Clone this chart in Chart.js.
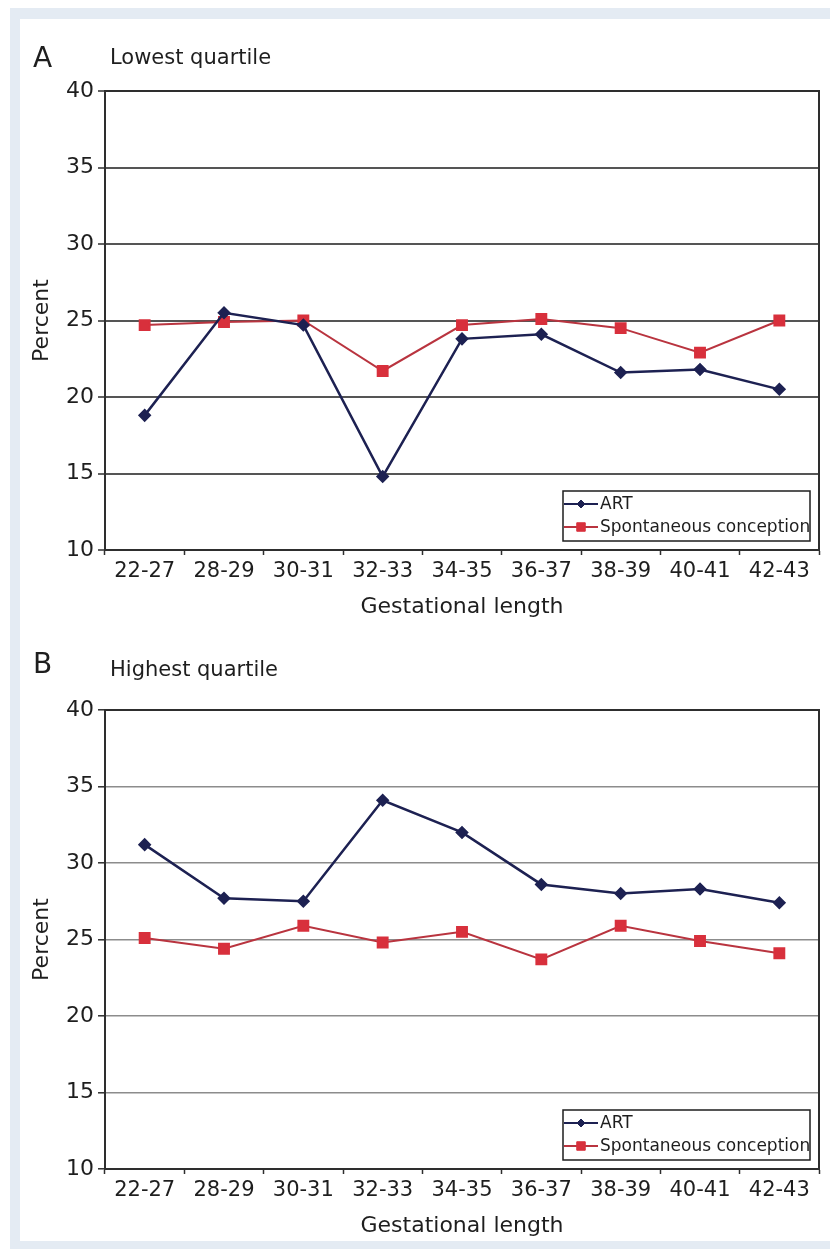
<!DOCTYPE html>
<html>
<head>
<meta charset="utf-8">
<script src="https://cdn.jsdelivr.net/npm/chart.js@4.4.1/dist/chart.umd.min.js"></script>
<style>
  body { margin: 0; background: #ffffff; width: 830px; height: 1249px; overflow: hidden; position: relative; font-family: 'DejaVu Sans', sans-serif; }
  .frame { position: absolute; left: 10px; top: 8px; width: 820px; height: 1241px; background: #e4ebf3; }
  .inner { position: absolute; left: 20px; top: 19px; width: 810px; height: 1222px; background: #ffffff; }
  .panel { position: absolute; left: 0; width: 830px; height: 620px; }
  .panel canvas { position: absolute; left: 0; top: 0; }
  .letter { position: absolute; left: 33px; font-size: 28px; line-height: 28px; color: #1e1e1e; }
  .heading { position: absolute; left: 110px; font-size: 21px; line-height: 21px; color: #1e1e1e; }
</style>
</head>
<body>
<div class="frame"></div>
<div class="inner"></div>

<div class="panel" style="top:0px;">
  <canvas id="chart-lowest" width="830" height="620"></canvas>
  <div class="letter" style="top:44px;">A</div>
  <div class="heading" style="top:47px;">Lowest quartile</div>
</div>

<div class="panel" style="top:619px;">
  <canvas id="chart-highest" width="830" height="620"></canvas>
  <div class="letter" style="top:31px;">B</div>
  <div class="heading" style="top:40px;">Highest quartile</div>
</div>

<script>
// gestational length groups (weeks)
const categories = ['22-27', '28-29', '30-31', '32-33', '34-35', '36-37', '38-39', '40-41', '42-43'];
const seriesNames = ['ART', 'Spontaneous conception'];

// A: lowest quartile
const artLowest   = [18.8, 25.5, 24.7, 14.8, 23.8, 24.1, 21.6, 21.8, 20.5];
const spontLowest = [24.7, 24.9, 25.0, 21.7, 24.7, 25.1, 24.5, 22.9, 25.0];

// B: highest quartile
const artHighest   = [31.2, 27.7, 27.5, 34.1, 32.0, 28.6, 28.0, 28.3, 27.4];
const spontHighest = [25.1, 24.4, 25.9, 24.8, 25.5, 23.7, 25.9, 24.9, 24.1];

// y axis
const yMin = 10, yMax = 40, yStep = 5;

Chart.defaults.font.family = "'DejaVu Sans', sans-serif";
Chart.defaults.color = '#1e1e1e';

const ART_COLOR = '#1d2152';
const SPONT_LINE = '#b9343f';
const SPONT_POINT = '#d8303c';

// caja alrededor del area del grafico (arriba y derecha)
const plotBox = {
    id: 'plotBox',
    afterDraw(chart) {
        const a = chart.chartArea, ctx = chart.ctx;
        ctx.save();
        ctx.strokeStyle = '#2e2e2e';
        ctx.lineWidth = 2;
        ctx.strokeRect(a.left, a.top, a.right - a.left, a.bottom - a.top);
        ctx.restore();
    }
};

// leyenda dentro del area, abajo a la derecha
const boxLegend = {
    id: 'boxLegend',
    afterDatasetsDraw(chart) {
        const a = chart.chartArea, ctx = chart.ctx;
        const w = 247, h = 50;
        const x = a.right - 9 - w, y = a.bottom - 9 - h;
        ctx.save();
        ctx.fillStyle = '#ffffff';
        ctx.fillRect(x, y, w, h);
        ctx.strokeStyle = '#1e1e1e';
        ctx.lineWidth = 1.5;
        ctx.strokeRect(x, y, w, h);
        chart.data.datasets.forEach((ds, i) => {
            const cy = y + 13 + i * 23;
            ctx.strokeStyle = ds.borderColor;
            ctx.lineWidth = 2;
            ctx.beginPath();
            ctx.moveTo(x + 1, cy);
            ctx.lineTo(x + 35, cy);
            ctx.stroke();
            ctx.fillStyle = ds.pointBackgroundColor;
            ctx.strokeStyle = ds.pointBorderColor;
            ctx.lineWidth = 1;
            Chart.helpers.drawPoint(ctx, { pointStyle: ds.pointStyle, radius: ds.pointRadius - 1, borderWidth: 1 }, x + 18, cy);
            ctx.fillStyle = '#1e1e1e';
            ctx.font = "17px 'DejaVu Sans', sans-serif";
            ctx.textBaseline = 'middle';
            ctx.textAlign = 'left';
            ctx.fillText(ds.label, x + 37, cy + 1);
        });
        ctx.restore();
    }
};

function crearPanel(id, art, spont, gridColor, gridWidth) {
    const ctx = document.getElementById(id);
    return new Chart(ctx, {
        type: 'line',
        data: {
            labels: categories,
            datasets: [{
                label: seriesNames[0],
                data: art,
                borderColor: ART_COLOR,
                borderWidth: 2.5,
                pointStyle: 'rectRot',
                pointRadius: 5,
                pointBackgroundColor: ART_COLOR,
                pointBorderColor: ART_COLOR,
                tension: 0
            }, {
                label: seriesNames[1],
                data: spont,
                borderColor: SPONT_LINE,
                borderWidth: 2,
                pointStyle: 'rect',
                pointRadius: 7,
                pointBackgroundColor: SPONT_POINT,
                pointBorderColor: SPONT_POINT,
                tension: 0
            }]
        },
        options: {
            responsive: false,
            animation: false,
            layout: { padding: { left: 0, top: 91, right: 11, bottom: 0 } },
            plugins: {
                legend: { display: false },
                tooltip: { enabled: false }
            },
            scales: {
                x: {
                    offset: true,
                    grid: { offset: true, drawOnChartArea: false, drawTicks: true, tickLength: 5, tickColor: '#2e2e2e', tickWidth: 1.5 },
                    border: { color: '#2e2e2e', width: 2 },
                    ticks: { font: { size: 21 }, padding: 4, maxRotation: 0, autoSkip: false },
                    title: { display: true, text: 'Gestational length', font: { size: 22 }, padding: { top: 0, bottom: 0 } },
                    afterFit: (scale) => { scale.height = 70; }
                },
                y: {
                    min: yMin,
                    max: yMax,
                    ticks: { stepSize: yStep, font: { size: 22 }, padding: 4 },
                    grid: { color: gridColor, lineWidth: gridWidth, tickLength: 7, tickColor: '#2e2e2e', tickWidth: 1.5 },
                    border: { color: '#2e2e2e', width: 2 },
                    title: { display: true, text: 'Percent', font: { size: 22 }, padding: { top: 29, bottom: 4 } },
                    afterFit: (scale) => { scale.width = 105; }
                }
            }
        },
        plugins: [plotBox, boxLegend]
    });
}

crearPanel('chart-lowest', artLowest, spontLowest, '#555555', 2);
crearPanel('chart-highest', artHighest, spontHighest, '#8c8c8c', 1.6);
</script>
</body>
</html>
